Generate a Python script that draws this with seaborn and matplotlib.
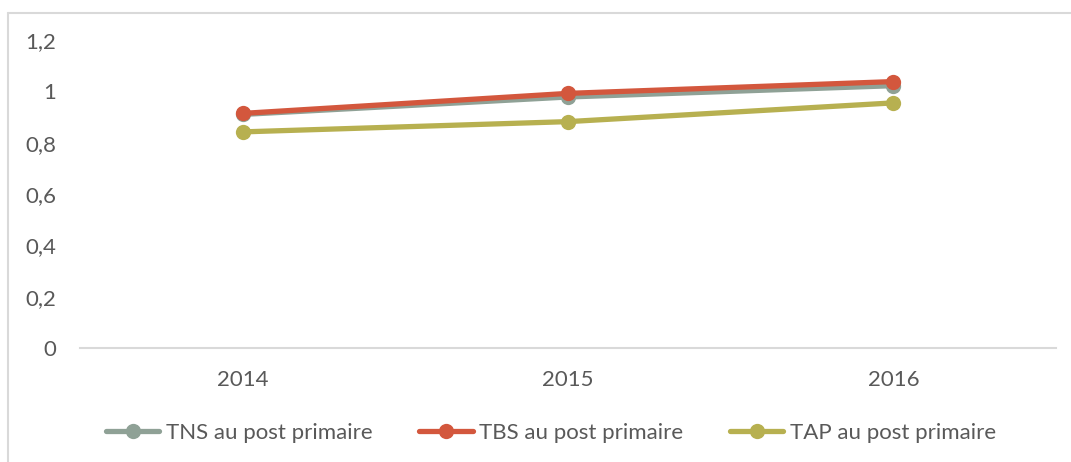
import matplotlib
matplotlib.use("Agg")
import matplotlib.pyplot as plt
from matplotlib.lines import Line2D
from matplotlib.ticker import FuncFormatter
import pandas as pd
import seaborn as sns

# Données
annees = ["2014", "2015", "2016"]
tns = [0.910, 0.978, 1.022]
tbs = [0.914, 0.992, 1.038]
tap = [0.842, 0.882, 0.955]
series = ["TNS au post primaire", "TBS au post primaire", "TAP au post primaire"]
couleurs = ["#8FA196", "#D3573D", "#B7B050"]

df = pd.DataFrame({
    "annee": annees * 3,
    "valeur": tns + tbs + tap,
    "serie": [s for s in series for _ in annees],
})

sns.set_style("white")
plt.rcParams["font.family"] = ["Lato", "DejaVu Sans"]

fig = plt.figure(figsize=(10.71, 4.62), dpi=100)
ax = fig.add_axes([80 / 1071, 1 - 348 / 462, (1056 - 80) / 1071, (348 - 40) / 462])

sns.lineplot(data=df, x="annee", y="valeur", hue="serie", palette=couleurs,
             hue_order=series, marker="o", markersize=11, markeredgewidth=0,
             linewidth=3.8, sort=False, legend=False, ax=ax)

ax.set_xlim(-0.5, 2.5)
ax.set_ylim(0, 1.2)
ax.set_yticks([0, 0.2, 0.4, 0.6, 0.8, 1.0, 1.2])
ax.yaxis.set_major_formatter(FuncFormatter(lambda v, p: f"{v:g}".replace(".", ",")))
ax.set_xlabel("")
ax.set_ylabel("")
ax.tick_params(axis="both", length=0, labelsize=16, colors="#595959")
ax.tick_params(axis="y", pad=17)
ax.tick_params(axis="x", pad=16)

for s in ["top", "right", "left"]:
    ax.spines[s].set_visible(False)
ax.spines["bottom"].set_color("#D9D9D9")
ax.spines["bottom"].set_linewidth(1.5)

# cadre du graphique
fig.add_artist(Line2D([8 / 1071, 8 / 1071], [0, 1 - 13 / 462], color="#D9D9D9", lw=1.5))
fig.add_artist(Line2D([8 / 1071, 1], [1 - 13 / 462, 1 - 13 / 462], color="#D9D9D9", lw=1.5))

handles = [Line2D([], [], color=c, lw=3.8, marker="o", markersize=11, markeredgewidth=0)
           for c in couleurs]
fig.legend(handles, series, loc="center", bbox_to_anchor=(551 / 1071, 1 - 433 / 462),
           ncol=3, frameon=False, fontsize=16, handlelength=2.4, handletextpad=0.3,
           columnspacing=2.1, labelcolor="#595959")

fig.savefig("out.png", dpi=100)
